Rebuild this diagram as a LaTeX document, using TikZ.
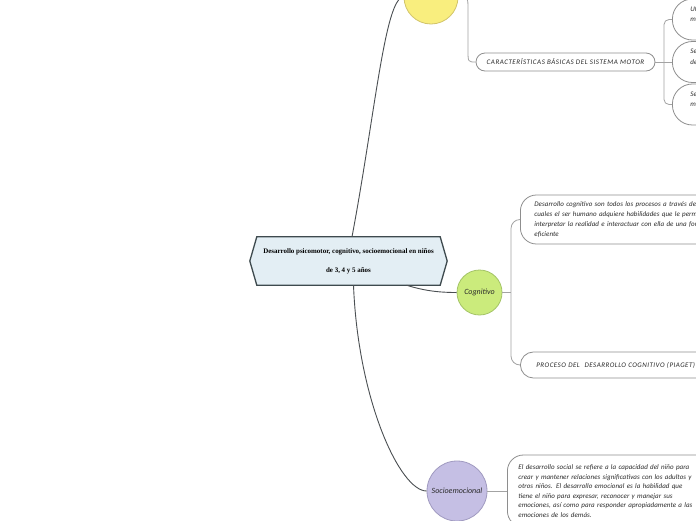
\documentclass[tikz,border=0pt]{standalone}
\usepackage{fontspec}
\setmainfont{Liberation Serif}
\newfontfamily\handfont{Carlito}
\pgfdeclarelayer{back}
\pgfsetlayers{back,main}
\definecolor{cfill}{HTML}{E3EEF4}
\definecolor{cborder}{HTML}{3E4A4E}
\definecolor{yfill}{HTML}{F9EE7E}
\definecolor{yborder}{HTML}{D2C46A}
\definecolor{gfill}{HTML}{CBEB7C}
\definecolor{gborder}{HTML}{A4C466}
\definecolor{pfill}{HTML}{C5BFE4}
\definecolor{pborder}{HTML}{A09AC0}
\definecolor{linedark}{HTML}{4A4F52}
\definecolor{linelight}{HTML}{A3A3A3}
\definecolor{bubbleborder}{HTML}{8E8E8E}
\definecolor{textdark}{HTML}{2A2A2A}
\tikzset{
  mainline/.style={draw=linedark, line width=0.9pt},
  subline/.style={draw=linelight, line width=0.8pt},
  handtext/.style={font=\handfont\itshape\fontsize{7}{10.3}\selectfont, text=textdark},
  bubble/.style={handtext, draw=bubbleborder, line width=0.8pt, fill=white,
    align=left, inner ysep=0pt, anchor=west},
  topic/.style={circle, line width=0.8pt, inner sep=0pt, text=textdark,
    font=\handfont\itshape\fontsize{8}{9}\selectfont},
  centerbox/.style={rectangle, inner sep=0pt, minimum width=183pt, minimum height=48pt,
    align=center, text=black, font=\bfseries\fontsize{6.95}{19}\selectfont},
}
\begin{document}
\begin{tikzpicture}[x=1pt,y=-1pt]
\useasboundingbox (0,0) rectangle (696,520);
\clip (0,0) rectangle (696,520);

% central node
\node[centerbox] (center) at (348.5,261) {Desarrollo psicomotor, cognitivo, socioemocional en niños\\de 3, 4 y 5 años};
\begin{pgfonlayer}{back}
\fill[white] (0,0) rectangle (696,520);
\draw[fill=cfill, draw=cborder, line width=1.3pt, line join=miter]
  (center.north west) -- (center.north east) -- ([xshift=7pt]center.east)
  -- (center.south east) -- (center.south west) -- ([xshift=-7pt]center.west) -- cycle;
\end{pgfonlayer}

% topic circles
\node[topic, fill=yfill, draw=yborder, minimum size=54pt] (yellow) at (431,-3) {};
\node[topic, fill=gfill, draw=gborder, minimum size=45pt] (cog) at (479.5,292.5) {Cognitivo};
\node[topic, fill=pfill, draw=pborder, minimum size=60pt] (socio) at (457,491) {Socioemocional};

% motor branch
\node[handtext, draw=bubbleborder, line width=0.8pt, fill=white, rounded corners=9pt,
  minimum width=179pt, minimum height=18pt, inner sep=0pt,
  font=\handfont\itshape\fontsize{7}{9}\addfontfeature{LetterSpace=7.7}\selectfont] (motor) at (565.5,62)
  {CARACTERÍSTICAS BÁSICAS DEL SISTEMA MOTOR};
\coordinate (fork1) at (664,62);
\node[bubble, rounded corners=20pt, minimum width=110pt, minimum height=41pt,
  inner xsep=18pt, text width=74pt] (b1) at (672,19.5) {Ut\\m\\\mbox{}};
\node[bubble, rounded corners=20pt, minimum width=110pt, minimum height=41pt,
  inner xsep=18pt, text width=74pt] (b2) at (672,62) {Se\\de\\\mbox{}};
\node[bubble, rounded corners=20pt, minimum width=110pt, minimum height=41pt,
  inner xsep=18pt, text width=74pt] (b3) at (672,104.5) {Se\\m\\\mbox{}};

% cognitive branch
\coordinate (fork2) at (511,292.5);
\node[bubble, rounded corners=16pt, minimum width=280pt, minimum height=49pt,
  inner xsep=14pt, text width=252pt,
  font=\handfont\itshape\fontsize{7}{10.3}\addfontfeature{LetterSpace=0.6}\selectfont] (c1) at (520,219.5)
  {Desarrollo cognitivo son todos los procesos a través de\\
   cuales el ser humano adquiere habilidades que le perm\\
   interpretar la realidad e interactuar con ella de una for\\
   eficiente};
\node[bubble, rounded corners=13pt, minimum width=240pt, minimum height=26pt,
  inner xsep=16pt, text width=208pt,
  font=\handfont\itshape\fontsize{7}{9}\addfontfeature{LetterSpace=6.8}\selectfont] (c2) at (520,365)
  {PROCESO DEL \ DESARROLLO COGNITIVO (PIAGET)};

% socioemotional branch
\node[bubble, rounded corners=16pt, minimum width=230pt, minimum height=72pt,
  inner xsep=11pt, text width=208pt,
  font=\handfont\itshape\fontsize{7}{9.5}\addfontfeature{LetterSpace=0.6}\selectfont]
  (s1) at (507,491)
  {El desarrollo social se refiere a la capacidad del niño para\\
   crear y mantener relaciones significativas con los adultos y\\
   otros niños. El desarrollo emocional es la habilidad que\\
   tiene el niño para expresar, reconocer y manejar sus\\
   emociones, así como para responder apropiadamente a las\\
   emociones de los demás.};

% main connectors
\draw[mainline] ([xshift=3.5pt]center.north) .. controls (375,115) and (385,-3) .. (yellow.west);
\draw[mainline] ([xshift=58pt]center.south) .. controls (425,291) and (440,292.5) .. (cog.west);
\draw[mainline] ([xshift=5pt]center.south) .. controls (358,400) and (400,491) .. (socio.west);

% sub connectors
\draw[subline] (yellow.east) .. controls (468,-3) .. (468,10) -- (468,50) .. controls (468,62) .. (motor.west);
\draw[subline] (motor.east) -- (fork1);
\draw[subline, rounded corners=5pt] (fork1) |- (b1.west);
\draw[subline] (fork1) -- (b2.west);
\draw[subline, rounded corners=5pt] (fork1) |- (b3.west);

\draw[subline] (cog.east) -- (fork2);
\draw[subline, rounded corners=9pt] (fork2) |- (c1.west);
\draw[subline, rounded corners=9pt] (fork2) |- (c2.west);

\draw[subline] (socio.east) -- (s1.west);
\end{tikzpicture}
\end{document}
